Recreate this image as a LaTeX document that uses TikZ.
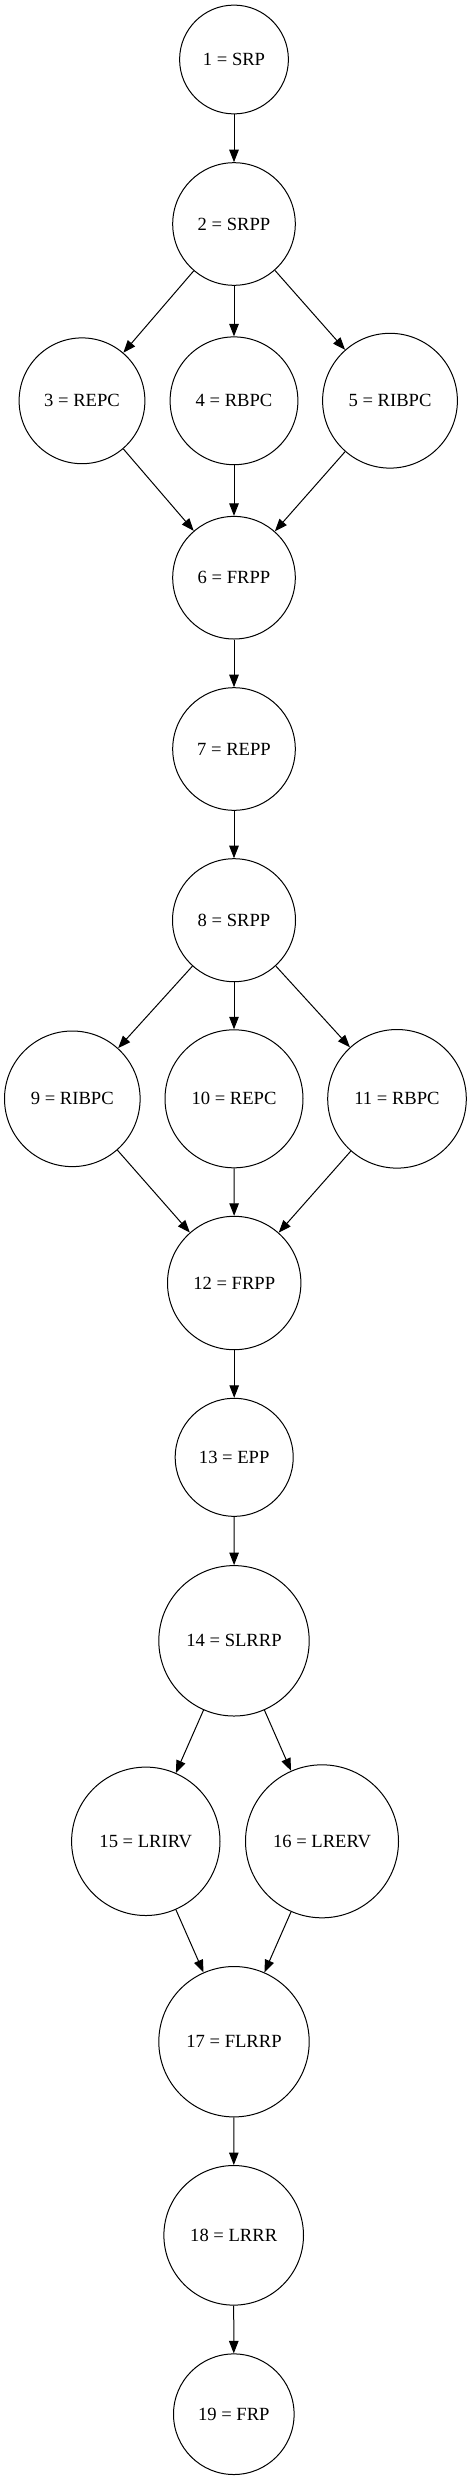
\documentclass[tikz,border=0pt]{standalone}
\usepackage{fontspec}
\setmainfont{Liberation Serif}
\usetikzlibrary{arrows.meta}
\begin{document}
\begin{tikzpicture}[x=1pt,y=-1pt,
  st/.style={draw=black,circle,inner sep=0pt,line width=1pt,font=\fontsize{18.6}{22}\selectfont},
  edge/.style={draw=black,line width=1pt,-{Triangle[length=12.5pt,width=9.5pt]}}]
\useasboundingbox[fill=white] (0,0) rectangle (472,2481);
\node[st,minimum size=108.8pt] (n1) at (234,59.5) {1 = SRP};
\node[st,minimum size=122.6pt] (n2) at (234,224) {2 = SRPP};
\node[st,minimum size=125.8pt] (n3) at (82,400.8) {3 = REPC};
\node[st,minimum size=127.8pt] (n4) at (234,400.8) {4 = RBPC};
\node[st,minimum size=134.8pt] (n5) at (390,400.7) {5 = RIBPC};
\node[st,minimum size=122.6pt] (n6) at (234,577.7) {6 = FRPP};
\node[st,minimum size=122.6pt] (n7) at (234,749) {7 = REPP};
\node[st,minimum size=123pt] (n8) at (234,920.2) {8 = SRPP};
\node[st,minimum size=135.6pt] (n9) at (72.3,1098.8) {9 = RIBPC};
\node[st,minimum size=138pt] (n10) at (234,1098.8) {10 = REPC};
\node[st,minimum size=138.6pt] (n11) at (397,1098.8) {11 = RBPC};
\node[st,minimum size=133.4pt] (n12) at (234.2,1283) {12 = FRPP};
\node[st,minimum size=118pt] (n13) at (234.2,1457.3) {13 = EPP};
\node[st,minimum size=150.4pt] (n14) at (234,1640.8) {14 = SLRRP};
\node[st,minimum size=148.4pt] (n15) at (145.8,1841.3) {15 = LRIRV};
\node[st,minimum size=153pt] (n16) at (322,1841.3) {16 = LRERV};
\node[st,minimum size=150.4pt] (n17) at (234,2041.7) {17 = FLRRP};
\node[st,minimum size=139.6pt] (n18) at (233.7,2235.3) {18 = LRRR};
\node[st,minimum size=120.6pt] (n19) at (233.8,2414.2) {19 = FRP};
\draw[edge] (n1) -- (n2);
\draw[edge] (n2) -- (n3);
\draw[edge] (n2) -- (n4);
\draw[edge] (n2) -- (n5);
\draw[edge] (n3) -- (n6);
\draw[edge] (n4) -- (n6);
\draw[edge] (n5) -- (n6);
\draw[edge] (n6) -- (n7);
\draw[edge] (n7) -- (n8);
\draw[edge] (n8) -- (n9);
\draw[edge] (n8) -- (n10);
\draw[edge] (n8) -- (n11);
\draw[edge] (n9) -- (n12);
\draw[edge] (n10) -- (n12);
\draw[edge] (n11) -- (n12);
\draw[edge] (n12) -- (n13);
\draw[edge] (n13) -- (n14);
\draw[edge] (n14) -- (n15);
\draw[edge] (n14) -- (n16);
\draw[edge] (n15) -- (n17);
\draw[edge] (n16) -- (n17);
\draw[edge] (n17) -- (n18);
\draw[edge] (n18) -- (n19);
\end{tikzpicture}
\end{document}
